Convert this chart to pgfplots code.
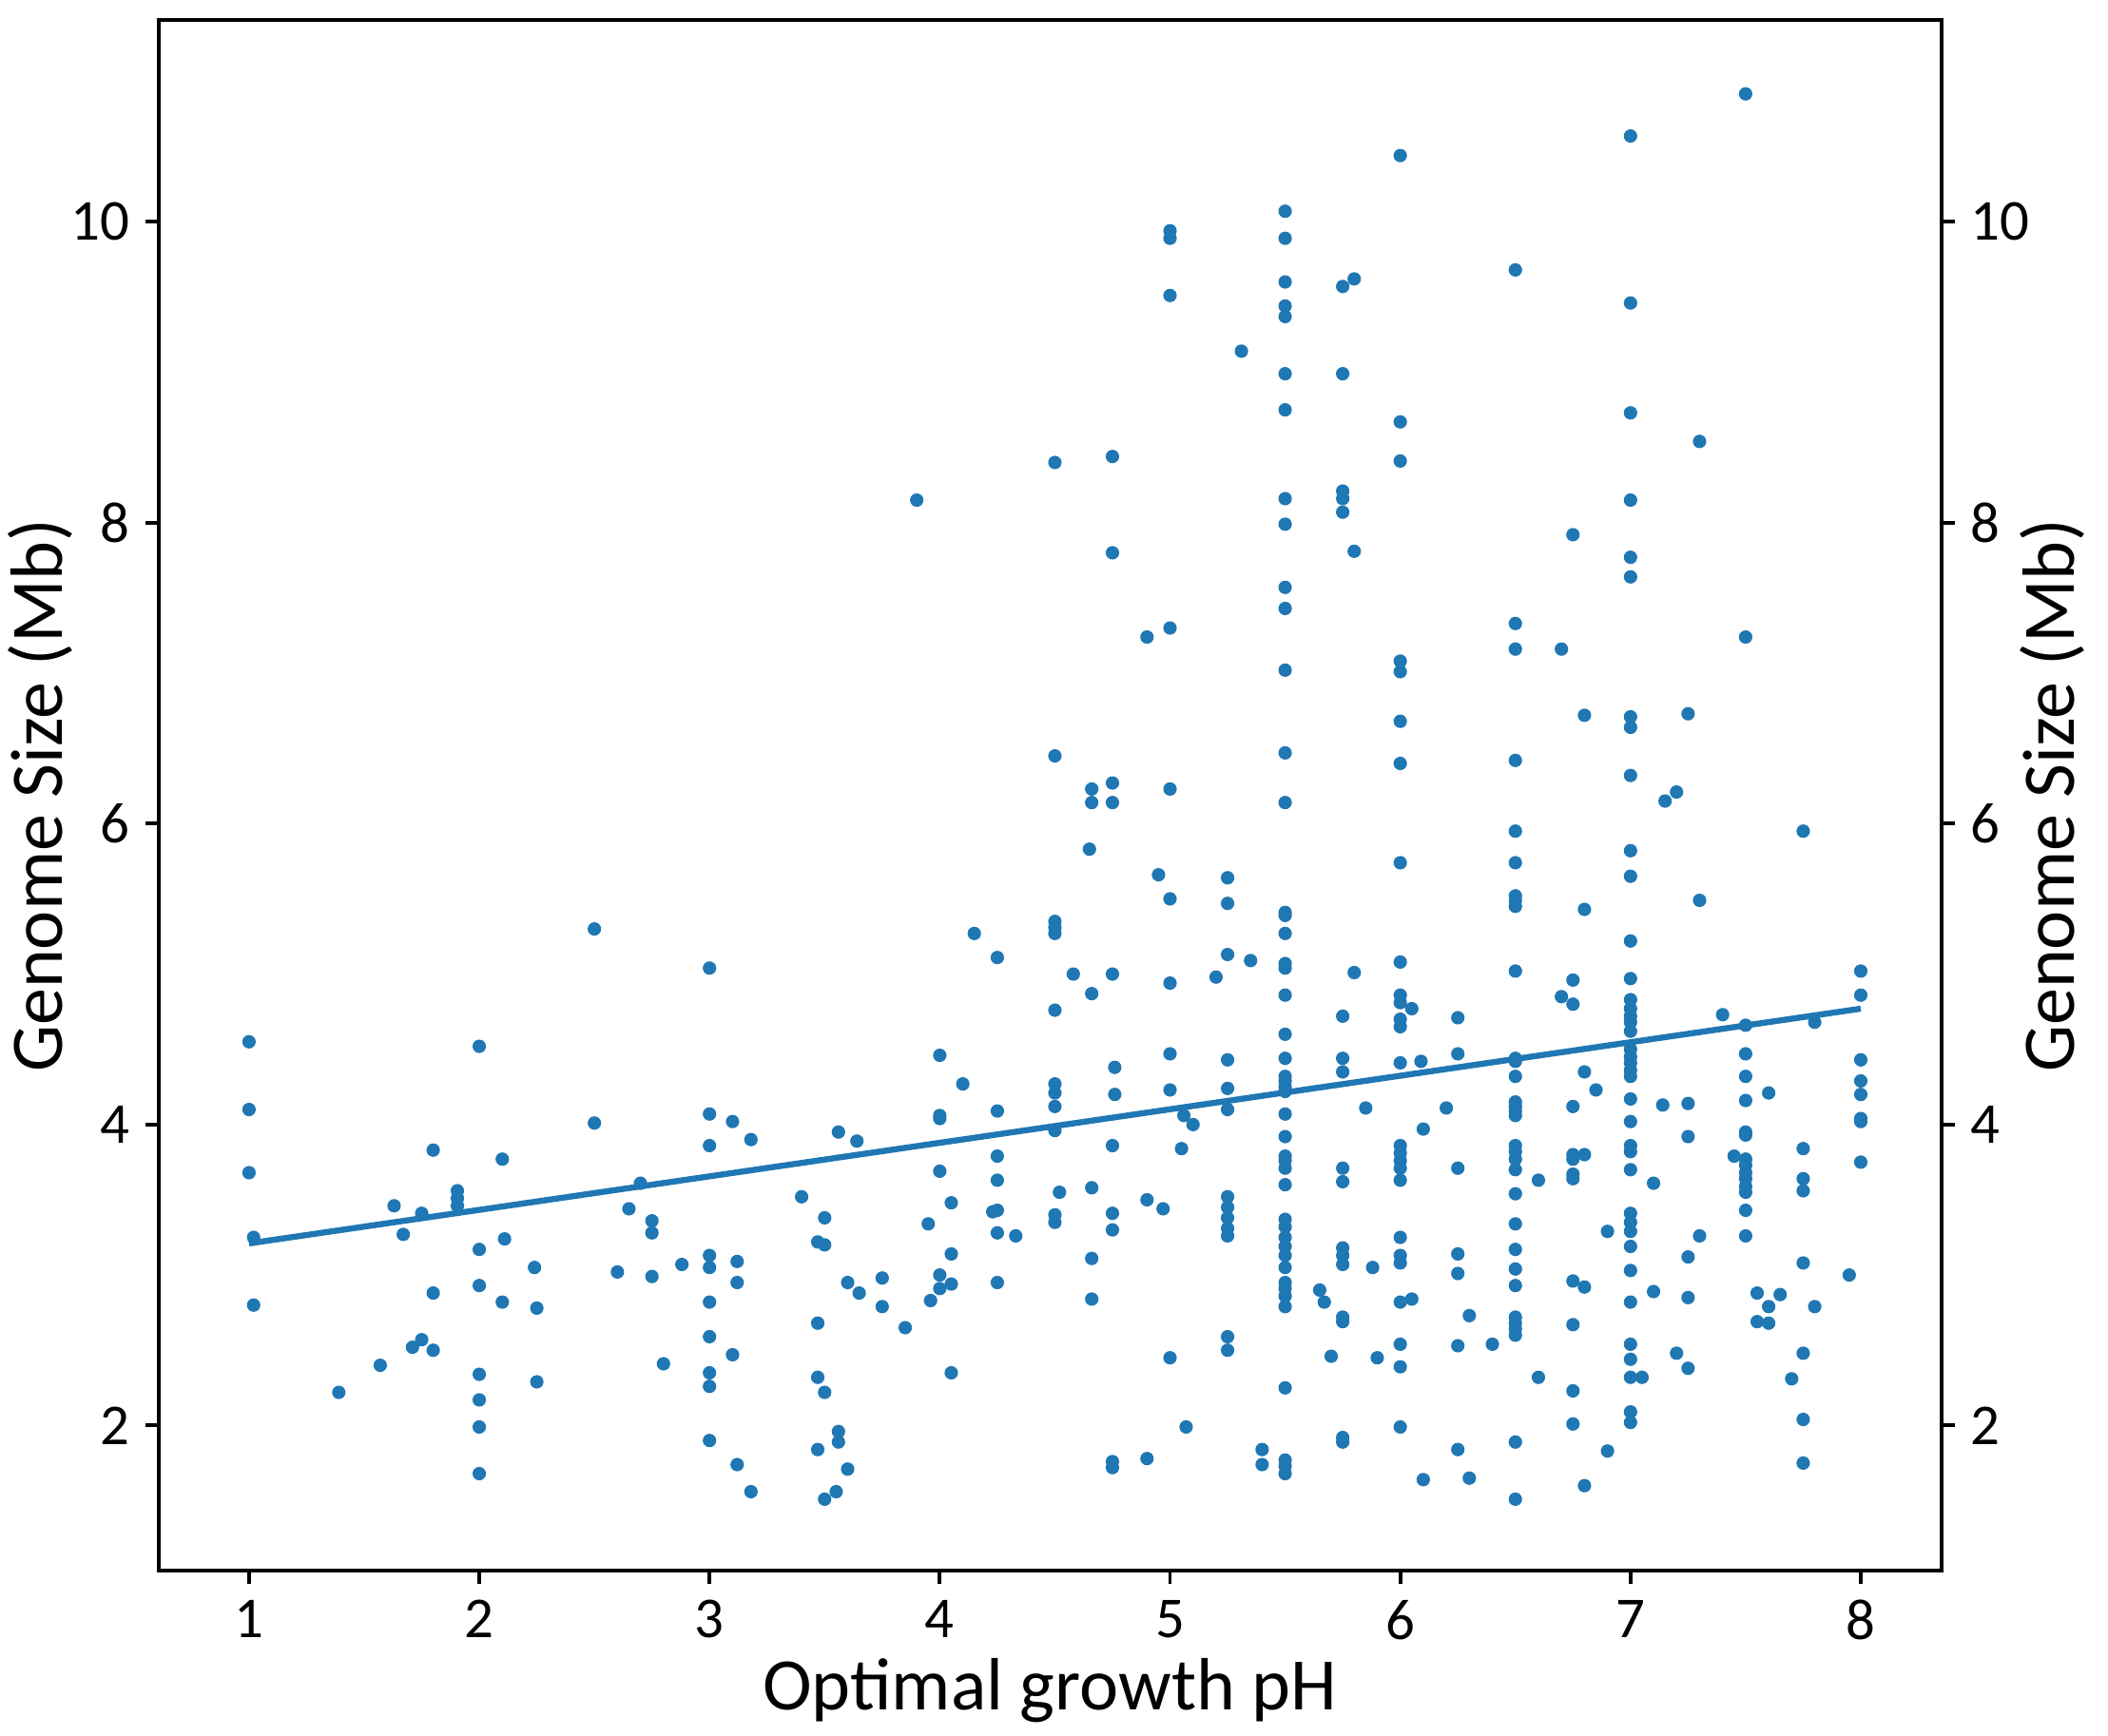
\documentclass[border=0pt]{standalone}
\usepackage{fontspec}
\setmainfont{Carlito}
\usepackage{pgfplots}
\pgfplotsset{compat=1.18}
\usepackage{pgfplotstable}
\definecolor{mplblue}{HTML}{1F77B4}
\pgfplotstableread{
x y
1 4.55
1 4.10
1 3.68
1.02 3.25
1.02 2.80
1.39 2.22
1.57 2.40
1.63 3.46
1.67 3.27
1.71 2.52
1.75 2.57
1.75 3.41
1.80 3.83
1.80 2.88
1.80 2.50
1.905 3.56
1.905 3.51
1.905 3.46
2 4.52
2 3.17
2 2.93
2 2.34
2 2.17
2 1.99
2 1.68
2.10 3.77
2.11 3.24
2.10 2.82
2.24 3.05
2.25 2.78
2.25 2.29
2.5 5.30
2.5 4.01
2.6 3.02
2.65 3.44
2.70 3.61
2.75 3.36
2.75 3.28
2.75 2.99
2.80 2.41
2.88 3.07
3 5.04
3 4.07
3 3.86
3 3.13
3 3.05
3 2.82
3 2.59
3 2.35
3 2.26
3 1.90
3.10 4.02
3.12 3.09
3.12 2.95
3.10 2.47
3.12 1.74
3.18 3.90
3.18 1.56
3.40 3.52
3.47 3.22
3.47 2.68
3.47 2.32
3.47 1.84
3.5 3.38
3.5 3.20
3.5 2.22
3.5 1.51
3.55 1.56
3.56 3.95
3.56 1.96
3.56 1.89
3.6 2.95
3.6 1.71
3.64 3.89
3.65 2.88
3.75 2.98
3.75 2.79
3.85 2.65
3.9 8.15
3.95 3.34
3.96 2.83
4 4.46
4 4.06
4 4.04
4 3.69
4 3.00
4 2.91
4.05 3.48
4.05 3.14
4.05 2.94
4.05 2.35
4.10 4.27
4.15 5.27
4.23 3.42
4.25 5.11
4.25 4.09
4.25 3.79
4.25 3.63
4.25 3.43
4.25 3.28
4.25 2.95
4.33 3.26
4.5 8.40
4.5 6.45
4.5 5.35
4.5 5.31
4.5 5.27
4.5 4.76
4.5 4.27
4.5 4.21
4.5 4.12
4.5 3.96
4.5 3.40
4.5 3.35
4.52 3.55
4.58 5.00
4.65 5.83
4.66 6.23
4.66 6.14
4.66 4.87
4.66 3.58
4.66 3.11
4.66 2.84
4.75 8.44
4.75 7.80
4.75 6.27
4.75 6.14
4.75 5.00
4.76 4.38
4.76 4.20
4.75 3.86
4.75 3.41
4.75 3.30
4.75 1.76
4.75 1.72
4.9 7.24
4.9 3.50
4.9 1.78
4.95 5.66
4.97 3.44
5 9.94
5 9.89
5 9.51
5 7.30
5 6.23
5 5.50
5 4.94
5 4.47
5 4.23
5 2.45
5.05 3.84
5.06 4.06
5.07 1.99
5.10 4.00
5.2 4.98
5.25 5.64
5.25 5.47
5.25 5.13
5.25 4.43
5.25 4.24
5.25 4.10
5.25 3.52
5.25 3.45
5.25 3.38
5.25 3.31
5.25 3.26
5.25 2.59
5.25 2.50
5.31 9.14
5.35 5.09
5.40 1.84
5.40 1.74
5.5 10.07
5.5 9.89
5.5 9.60
5.5 9.44
5.5 9.37
5.5 8.99
5.5 8.75
5.5 8.16
5.5 7.99
5.5 7.57
5.5 7.43
5.5 7.02
5.5 6.47
5.5 6.14
5.5 5.41
5.5 5.39
5.5 5.27
5.5 5.07
5.5 5.04
5.5 4.86
5.5 4.60
5.5 4.44
5.5 4.32
5.5 4.29
5.5 4.25
5.5 4.22
5.5 4.07
5.5 3.92
5.5 3.79
5.5 3.76
5.5 3.71
5.5 3.60
5.5 3.37
5.5 3.32
5.5 3.25
5.5 3.19
5.5 3.13
5.5 3.05
5.5 2.95
5.5 2.91
5.5 2.86
5.5 2.79
5.5 2.25
5.5 1.77
5.5 1.73
5.5 1.68
5.65 2.90
5.67 2.82
5.70 2.46
5.75 9.57
5.75 8.99
5.75 8.21
5.75 8.16
5.75 8.07
5.75 4.72
5.75 4.44
5.75 4.35
5.75 3.71
5.75 3.62
5.75 3.18
5.75 3.13
5.75 3.07
5.75 2.72
5.75 2.69
5.75 1.92
5.75 1.89
5.80 9.62
5.80 7.81
5.80 5.01
5.85 4.11
5.88 3.05
5.90 2.45
6 10.44
6 8.67
6 8.41
6 7.08
6 7.01
6 6.68
6 6.40
6 5.74
6 5.08
6 4.86
6 4.81
6 4.70
6 4.65
6 4.41
6 3.86
6 3.81
6 3.76
6 3.71
6 3.63
6 3.25
6 3.13
6 3.08
6 2.82
6 2.54
6 2.39
6 1.99
6.05 4.77
6.09 4.42
6.10 3.97
6.05 2.84
6.10 1.64
6.20 4.11
6.25 4.71
6.25 4.47
6.25 3.71
6.25 3.14
6.25 3.01
6.25 2.53
6.25 1.84
6.30 2.73
6.30 1.65
6.40 2.54
6.5 9.68
6.5 7.33
6.5 7.16
6.5 6.42
6.5 5.95
6.5 5.74
6.5 5.52
6.5 5.49
6.5 5.45
6.5 5.02
6.5 4.44
6.5 4.42
6.5 4.32
6.5 4.15
6.5 4.12
6.5 4.09
6.5 4.06
6.5 3.86
6.5 3.82
6.5 3.77
6.5 3.70
6.5 3.54
6.5 3.34
6.5 3.17
6.5 3.04
6.5 2.93
6.5 2.72
6.5 2.68
6.5 2.64
6.5 2.60
6.5 1.89
6.5 1.51
6.60 3.63
6.60 2.32
6.70 7.16
6.70 4.85
6.75 7.92
6.75 4.96
6.75 4.80
6.75 4.12
6.75 3.80
6.75 3.77
6.75 3.67
6.75 3.64
6.75 2.96
6.75 2.67
6.75 2.23
6.75 2.01
6.80 6.72
6.80 5.43
6.80 4.35
6.80 3.80
6.80 2.92
6.80 1.60
6.85 4.23
6.90 3.29
6.90 1.83
7 10.57
7 9.46
7 8.73
7 8.15
7 7.77
7 7.64
7 6.71
7 6.64
7 6.32
7 5.82
7 5.65
7 5.22
7 4.97
7 4.83
7 4.77
7 4.72
7 4.68
7 4.62
7 4.50
7 4.45
7 4.41
7 4.36
7 4.32
7 4.17
7 4.02
7 3.86
7 3.82
7 3.70
7 3.41
7 3.35
7 3.29
7 3.19
7 3.03
7 2.82
7 2.54
7 2.44
7 2.32
7 2.09
7 2.02
7.05 2.32
7.10 3.61
7.10 2.89
7.14 4.13
7.15 6.15
7.20 6.21
7.20 2.48
7.25 6.73
7.25 4.14
7.25 3.92
7.25 3.12
7.25 2.85
7.25 2.38
7.30 8.54
7.30 5.49
7.30 3.26
7.40 4.73
7.45 3.79
7.5 10.85
7.5 7.24
7.5 4.66
7.5 4.47
7.5 4.32
7.5 4.16
7.5 3.95
7.5 3.93
7.5 3.77
7.5 3.73
7.5 3.68
7.5 3.64
7.5 3.59
7.5 3.55
7.5 3.43
7.5 3.26
7.55 2.88
7.55 2.69
7.60 4.21
7.60 2.79
7.60 2.68
7.65 2.87
7.70 2.31
7.75 5.95
7.75 3.84
7.75 3.64
7.75 3.56
7.75 3.08
7.75 2.48
7.75 2.04
7.75 1.75
7.80 4.68
7.80 2.79
7.95 3.00
8 5.02
8 4.86
8 4.43
8 4.29
8 4.20
8 4.04
8 4.02
8 3.75
}\pts
\pgfplotsset{
  myaxis/.style={
    scale only axis,
    width=13.53cm, height=11.77cm,
    at={(1.205cm,1.255cm)}, anchor=south west,
    xmin=0.608, xmax=8.35, ymin=1.035, ymax=11.34,
    xtick={1,2,...,8}, ytick={2,4,6,8,10},
    tick align=outside,
    major tick length=0.1cm,
    axis line style={line width=0.8pt},
    every tick/.style={black, line width=0.8pt},
    tick label style={font=\fontsize{12.5}{15}\selectfont},
    /pgf/number format/assume math mode=true,
    label style={font=\fontsize{16}{19}\selectfont},
  }
}
\begin{document}
\begin{tikzpicture}
\useasboundingbox (0,0) rectangle (16cm,13.178cm);
\begin{axis}[myaxis,
  xtick pos=bottom, ytick pos=left,
  xlabel={Optimal growth pH},
  ylabel={Genome Size (Mb)},
  xlabel style={yshift=0.1cm},
  ylabel style={at={(axis description cs:-0.0665,0.5)}, anchor=center, rotate=0},
]
\addplot[only marks, mark=*, mark size=1.25pt, color=mplblue] table[x=x,y=y]{\pts};
\addplot[mplblue, line width=1.3pt] coordinates {(1,3.21) (8,4.77)};
\end{axis}
\begin{axis}[myaxis,
  axis x line=none, axis y line*=right,
  ylabel={Genome Size (Mb)},
  ylabel style={at={(axis description cs:1.062,0.5)}, anchor=center, rotate=0},
]
\addplot[draw=none] coordinates {(1,3) (8,4)};
\end{axis}
\end{tikzpicture}
\end{document}
